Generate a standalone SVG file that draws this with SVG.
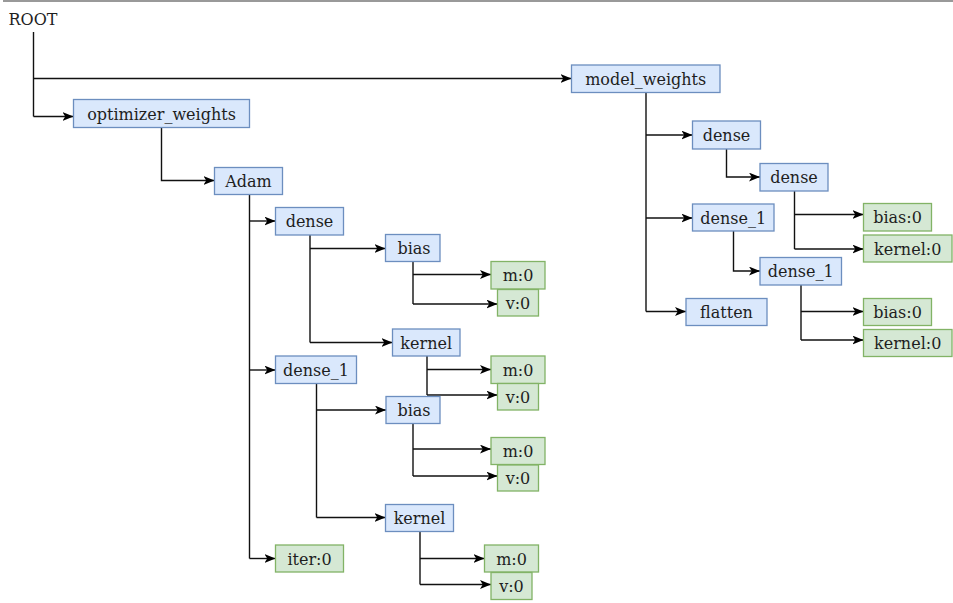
<svg xmlns="http://www.w3.org/2000/svg" width="953" height="603" viewBox="0 0 953 603">
  <style>
    .blue rect { fill: #dae8fc; stroke: #6c8ebf; stroke-width: 1.3; }
    .green rect { fill: #d5e8d4; stroke: #82b366; stroke-width: 1.3; }
    text { font-family: "DejaVu Serif", "Liberation Serif", serif; font-size: 16px; fill: #1e1e1e; text-anchor: middle; }
    #connectors path { fill: none; stroke: #111; stroke-width: 1.4; }
    #connectors path.arrow { marker-end: url(#arrowhead); }
  </style>
  <defs>
    <marker id="arrowhead" viewBox="0 0 10 8" refX="10" refY="4" markerWidth="11" markerHeight="9" markerUnits="userSpaceOnUse" orient="auto">
      <path d="M0,0 L10,4 L0,8 L2.5,4 z" fill="#000"/>
    </marker>
  </defs>

  <rect width="953" height="603" fill="#fff"/>
  <line x1="3" y1="1" x2="953" y2="1" stroke="#777" stroke-width="1.6"/>

  <!-- connectors -->
  <g id="connectors">
    <path d="M33.5,32 V116.5" />
    <path class="arrow" d="M33.5,116.5 H73.5" />
    <path class="arrow" d="M33.5,78.5 H571.5" />
    <path class="arrow" d="M161.5,127.5 V180.5 H214.5" />
    <path d="M249.5,194.5 V558.5" />
    <path class="arrow" d="M249.5,221 H275.5" />
    <path class="arrow" d="M249.5,370 H275.5" />
    <path class="arrow" d="M249.5,558.5 H275.5" />
    <path d="M310,235 V342.5" />
    <path class="arrow" d="M310,248.5 H385.5" />
    <path class="arrow" d="M310,342.5 H392.5" />
    <path d="M413,261.5 V304" />
    <path class="arrow" d="M413,274.5 H491" />
    <path class="arrow" d="M413,304 H497.5" />
    <path d="M427,356 V395" />
    <path class="arrow" d="M427,369.5 H491" />
    <path class="arrow" d="M427,395 H497.5" />
    <path d="M316.5,383.5 V517.5" />
    <path class="arrow" d="M316.5,410 H386" />
    <path class="arrow" d="M316.5,517.5 H385.5" />
    <path d="M413,423.5 V476" />
    <path class="arrow" d="M413,449 H491" />
    <path class="arrow" d="M413,476 H497.5" />
    <path d="M420,531.5 V584.5" />
    <path class="arrow" d="M420,558.5 H484.5" />
    <path class="arrow" d="M420,584.5 H491" />
    <path d="M646,92.5 V311.5" />
    <path class="arrow" d="M646,135 H692.5" />
    <path class="arrow" d="M646,218 H692.5" />
    <path class="arrow" d="M646,311.5 H686" />
    <path class="arrow" d="M726.5,149 V177 H760" />
    <path d="M794.5,191 V249" />
    <path class="arrow" d="M794.5,214.5 H863.5" />
    <path class="arrow" d="M794.5,249 H863.5" />
    <path class="arrow" d="M733.5,231 V271 H760" />
    <path d="M801,285 V340" />
    <path class="arrow" d="M801,311.5 H863.5" />
    <path class="arrow" d="M801,340 H863.5" />
  </g>

  <!-- nodes -->
  <g id="root"><text x="33" y="25">ROOT</text></g>

  <g id="optimizer_weights" class="blue"><rect x="73.5" y="99.5" width="176" height="28"/><text x="161.5" y="119.5">optimizer_weights</text></g>
  <g id="adam" class="blue"><rect x="214.5" y="167.5" width="68" height="27"/><text x="248.5" y="187">Adam</text></g>
  <g id="opt_dense" class="blue"><rect x="275.5" y="207.5" width="68" height="27.5"/><text x="309.5" y="227.2">dense</text></g>
  <g id="opt_dense_bias" class="blue"><rect x="385.5" y="234.5" width="54.5" height="27"/><text x="414" y="254">bias</text></g>
  <g id="opt_dense_bias_m" class="green"><rect x="491" y="261.5" width="54" height="27.5"/><text x="518" y="281.2">m:0</text></g>
  <g id="opt_dense_bias_v" class="green"><rect x="497.5" y="289.5" width="41" height="26.5"/><text x="518" y="308.7">v:0</text></g>
  <g id="opt_dense_kernel" class="blue"><rect x="392.5" y="329" width="67.5" height="27"/><text x="426.2" y="348.5">kernel</text></g>
  <g id="opt_dense_kernel_m" class="green"><rect x="491" y="356" width="54" height="27.5"/><text x="518" y="375.7">m:0</text></g>
  <g id="opt_dense_kernel_v" class="green"><rect x="497.5" y="383.5" width="41" height="26.5"/><text x="518" y="402.7">v:0</text></g>
  <g id="opt_dense_1" class="blue"><rect x="275.5" y="356" width="81" height="27.5"/><text x="316" y="375.7">dense_1</text></g>
  <g id="opt_dense_1_bias" class="blue"><rect x="386" y="396.5" width="54" height="27"/><text x="414" y="416">bias</text></g>
  <g id="opt_dense_1_bias_m" class="green"><rect x="491" y="437.5" width="54" height="27"/><text x="518" y="457">m:0</text></g>
  <g id="opt_dense_1_bias_v" class="green"><rect x="497.5" y="465" width="41" height="26"/><text x="518" y="484">v:0</text></g>
  <g id="opt_dense_1_kernel" class="blue"><rect x="385.5" y="504.5" width="68" height="27"/><text x="419.5" y="524">kernel</text></g>
  <g id="opt_dense_1_kernel_m" class="green"><rect x="484.5" y="545" width="54" height="27"/><text x="511.5" y="564.5">m:0</text></g>
  <g id="opt_dense_1_kernel_v" class="green"><rect x="491" y="572.5" width="41" height="27"/><text x="511.5" y="592">v:0</text></g>
  <g id="iter" class="green"><rect x="275.5" y="545" width="68" height="27"/><text x="309.5" y="564.5">iter:0</text></g>

  <g id="model_weights" class="blue"><rect x="571.5" y="65" width="148.5" height="27.5"/><text x="645.7" y="84.7">model_weights</text></g>
  <g id="mw_dense" class="blue"><rect x="692.5" y="121" width="68" height="28"/><text x="726.5" y="141">dense</text></g>
  <g id="mw_dense_dense" class="blue"><rect x="760" y="163.5" width="68" height="27.5"/><text x="794" y="183.2">dense</text></g>
  <g id="mw_dense_bias" class="green"><rect x="863.5" y="203.5" width="68" height="27.5"/><text x="897.5" y="223.2">bias:0</text></g>
  <g id="mw_dense_kernel" class="green"><rect x="863.5" y="235" width="88.5" height="27"/><text x="907.7" y="254.5">kernel:0</text></g>
  <g id="mw_dense_1" class="blue"><rect x="692.5" y="204" width="81.5" height="27"/><text x="733.2" y="223.5">dense_1</text></g>
  <g id="mw_dense_1_dense_1" class="blue"><rect x="760" y="257.5" width="81.5" height="27.5"/><text x="800.7" y="277.2">dense_1</text></g>
  <g id="mw_dense_1_bias" class="green"><rect x="863.5" y="298.5" width="68" height="27"/><text x="897.5" y="318">bias:0</text></g>
  <g id="mw_dense_1_kernel" class="green"><rect x="863.5" y="329.5" width="88.5" height="27"/><text x="907.7" y="349">kernel:0</text></g>
  <g id="mw_flatten" class="blue"><rect x="686" y="298.5" width="81" height="27"/><text x="726.5" y="318">flatten</text></g>
</svg>
